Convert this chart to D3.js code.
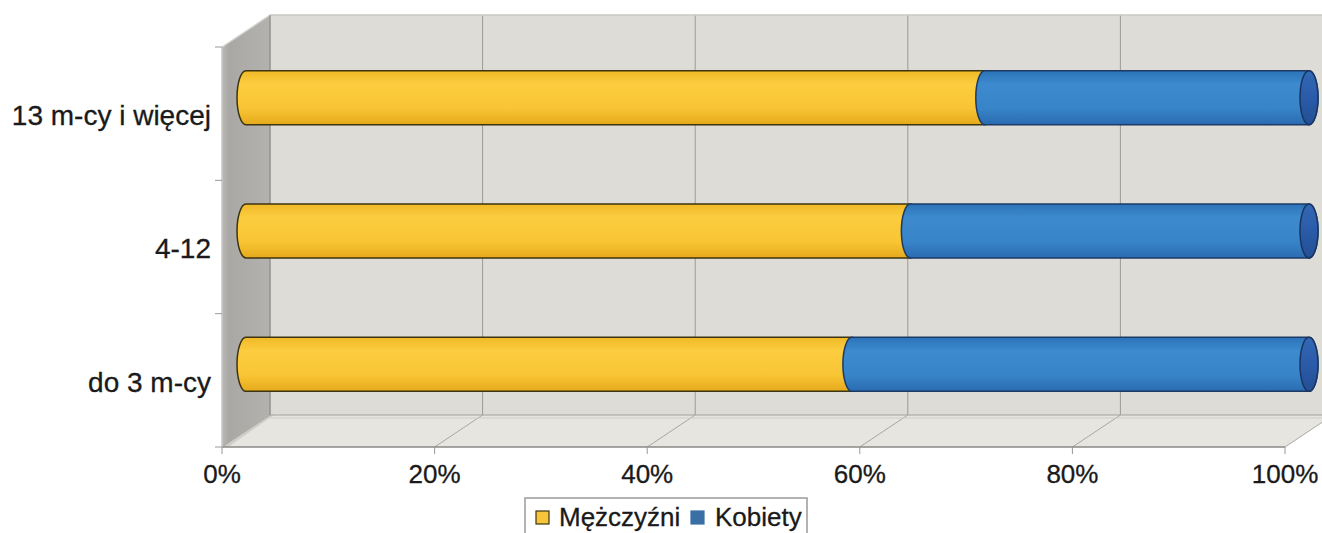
<!DOCTYPE html>
<html><head><meta charset="utf-8">
<script src="https://cdn.jsdelivr.net/npm/d3@7"></script>
<style>html,body{margin:0;padding:0;background:#fff;overflow:hidden}svg{display:block}</style>
</head><body><svg id="c" width="1322" height="533"></svg>
<script>
const categories = ["13 m-cy i więcej", "4-12", "do 3 m-cy"];
const men = [69.5, 62.5, 57.0];
const women = [30.5, 37.5, 43.0];
const tickValues = [0, 20, 40, 60, 80, 100];
const seriesNames = ["Mężczyźni", "Kobiety"];

const svg = d3.select("#c");
const font = "'Liberation Sans', Arial, sans-serif";

// front-face scales, depth offset
const x = d3.scaleLinear().domain([0, 100]).range([222, 1285]);
const y = d3.scaleBand().domain(categories).range([47, 447]).paddingInner(0).paddingOuter(0);
const DX = 48, DY = -32;           // full depth
const MX = DX / 2, MY = DY / 2;    // series mid-depth
const barH = y.bandwidth() * 0.405;
const rx = 9;

const defs = svg.append("defs");
function grad(id, stops) {
  const g = defs.append("linearGradient").attr("id", id).attr("x1", 0).attr("y1", 0).attr("x2", 0).attr("y2", 1);
  stops.forEach(s => g.append("stop").attr("offset", s[0]).attr("stop-color", s[1]));
}
grad("gY", [[0, "#f0b926"], [0.25, "#fccd40"], [0.7, "#f8c534"], [1, "#e5aa1c"]]);
grad("gB", [[0, "#2c73b8"], [0.25, "#3d8ace"], [0.7, "#3884c8"], [1, "#2a6bb0"]]);
grad("gCap", [[0, "#3268b5"], [0.5, "#2a5ba8"], [1, "#234f95"]]);
const lg = defs.append("linearGradient").attr("id", "gWall").attr("x1", 0).attr("y1", 0).attr("x2", 1).attr("y2", 0);
lg.append("stop").attr("offset", 0).attr("stop-color", "#b9b8b4");
lg.append("stop").attr("offset", 0.15).attr("stop-color", "#a9a8a4");
lg.append("stop").attr("offset", 1).attr("stop-color", "#b3b2ae");

const x0 = x(0), x1 = x(100), yt = y.range()[0], yb = y.range()[1];

// back wall
svg.append("rect").attr("x", x0 + DX).attr("y", yt + DY).attr("width", x1 - x0 + 10).attr("height", yb - yt)
  .attr("fill", "#dedcd6");
// floor
svg.append("path").attr("d", `M${x0},${yb} L${x1},${yb} L${x1 + DX},${yb + DY} L${x0 + DX},${yb + DY} Z`)
  .attr("fill", "#e7e5df");
// left wall
svg.append("path").attr("d", `M${x0},${yt} L${x0 + DX},${yt + DY} L${x0 + DX},${yb + DY} L${x0},${yb} Z`)
  .attr("fill", "url(#gWall)");
// floor shading near wall
svg.append("path").attr("d", `M${x0},${yb} L${x0 + DX},${yb + DY} L${x0 + DX + 4},${yb + DY} L${x0 + 6},${yb} Z`)
  .attr("fill", "#cfcdc8");

// gridlines on back wall
svg.append("g").selectAll("line").data(tickValues).join("line")
  .attr("x1", d => x(d) + DX).attr("x2", d => x(d) + DX)
  .attr("y1", yt + DY).attr("y2", yb + DY)
  .attr("stroke", "#9c9a96").attr("stroke-width", 1);
// floor diagonals
svg.append("g").selectAll("line").data(tickValues).join("line")
  .attr("x1", d => x(d)).attr("x2", d => x(d) + DX)
  .attr("y1", yb).attr("y2", yb + DY)
  .attr("stroke", "#a9a7a3").attr("stroke-width", 1);
// back-floor line
svg.append("line").attr("x1", x0 + DX).attr("x2", x1 + DX + 10).attr("y1", yb + DY).attr("y2", yb + DY)
  .attr("stroke", "#a4a29e");
svg.append("line").attr("x1", x0 + DX).attr("x2", x1 + DX + 10).attr("y1", yb + DY + 3).attr("y2", yb + DY + 3)
  .attr("stroke", "#cfcdc8");
// top edges
svg.append("line").attr("x1", x0 + DX).attr("x2", x1 + DX + 10).attr("y1", yt + DY).attr("y2", yt + DY)
  .attr("stroke", "#c9c8c4").attr("stroke-width", 1.5);
svg.append("line").attr("x1", x0).attr("x2", x0 + DX).attr("y1", yt).attr("y2", yt + DY)
  .attr("stroke", "#d8d7d3").attr("stroke-width", 1.5);
svg.append("line").attr("x1", x0 + DX).attr("x2", x0 + DX).attr("y1", yt + DY).attr("y2", yb + DY)
  .attr("stroke", "#8f8e8a");

// front axes
svg.append("line").attr("x1", x0).attr("x2", x1).attr("y1", yb).attr("y2", yb).attr("stroke", "#8a8986").attr("stroke-width", 1.5);
svg.append("line").attr("x1", x0).attr("x2", x0).attr("y1", yt).attr("y2", yb).attr("stroke", "#c8c7c3").attr("stroke-width", 1.5);
svg.append("g").selectAll("line").data(tickValues).join("line")
  .attr("x1", d => x(d)).attr("x2", d => x(d)).attr("y1", yb).attr("y2", yb + 7)
  .attr("stroke", "#9a9995");
const catTicks = [yt].concat(categories.map(c => y(c) + y.bandwidth()));
svg.append("g").selectAll("line").data(catTicks).join("line")
  .attr("x1", x0 - 7).attr("x2", x0).attr("y1", d => d).attr("y2", d => d)
  .attr("stroke", "#9a9995");

// bars (cylinders) at mid depth
function seg(xa, xb, cy, h) {
  const r = h / 2;
  return `M${xa},${cy - r} L${xb},${cy - r} A${rx},${r} 0 0 1 ${xb},${cy + r} L${xa},${cy + r} A${rx},${r} 0 0 1 ${xa},${cy - r} Z`;
}
const rows = categories.map((c, i) => ({ c, m: men[i], w: women[i] }));
const gb = svg.append("g");
rows.forEach(r => {
  const cy = y(r.c) + y.bandwidth() / 2 + MY;
  const a = x(0) + MX, b = x(r.m) + MX, e = x(r.m + r.w) + MX;
  gb.append("path").attr("d", seg(a, b, cy, barH)).attr("fill", "url(#gY)")
    .attr("stroke", "#3d3410").attr("stroke-width", 1.5);
  gb.append("path").attr("d", seg(b, e, cy, barH)).attr("fill", "url(#gB)")
    .attr("stroke", "#1d3a66").attr("stroke-width", 1.5);
  gb.append("ellipse").attr("cx", e).attr("cy", cy).attr("rx", rx).attr("ry", barH / 2)
    .attr("fill", "url(#gCap)").attr("stroke", "#1b3560").attr("stroke-width", 1.5);
});

// category labels
svg.append("g").selectAll("text").data(categories).join("text")
  .attr("x", 211).attr("y", d => y(d) + y.bandwidth() / 2 + 4)
  .attr("text-anchor", "end").attr("dominant-baseline", "middle")
  .attr("font-family", font).attr("font-size", 28).attr("fill", "#1a1a1a")
  .attr("stroke", "#1a1a1a").attr("stroke-width", 0.3)
  .text(d => d);

// x tick labels
svg.append("g").selectAll("text").data(tickValues).join("text")
  .attr("x", d => x(d)).attr("y", 483)
  .attr("text-anchor", "middle").attr("font-family", font).attr("font-size", 26).attr("fill", "#1a1a1a")
  .attr("stroke", "#1a1a1a").attr("stroke-width", 0.3)
  .text(d => d + "%");

// legend
const lgG = svg.append("g");
lgG.append("rect").attr("x", 525).attr("y", 498).attr("width", 282).attr("height", 45)
  .attr("fill", "#fff").attr("stroke", "#9a9a9a").attr("stroke-width", 1.5);
const legItems = [
  { name: seriesNames[0], fill: "#f7c43a", stroke: "#3d3410", sx: 536, tx: 559 },
  { name: seriesNames[1], fill: "#3a6fa6", stroke: "#3a6fa6", sx: 691, tx: 715 }
];
legItems.forEach(it => {
  lgG.append("rect").attr("x", it.sx).attr("y", 511).attr("width", 13).attr("height", 13)
    .attr("fill", it.fill).attr("stroke", it.stroke).attr("stroke-width", 1.2);
  lgG.append("text").attr("x", it.tx).attr("y", 526).attr("font-family", font).attr("font-size", 26)
    .attr("fill", "#1a1a1a").attr("stroke", "#1a1a1a").attr("stroke-width", 0.3).text(it.name);
});
</script></body></html>
